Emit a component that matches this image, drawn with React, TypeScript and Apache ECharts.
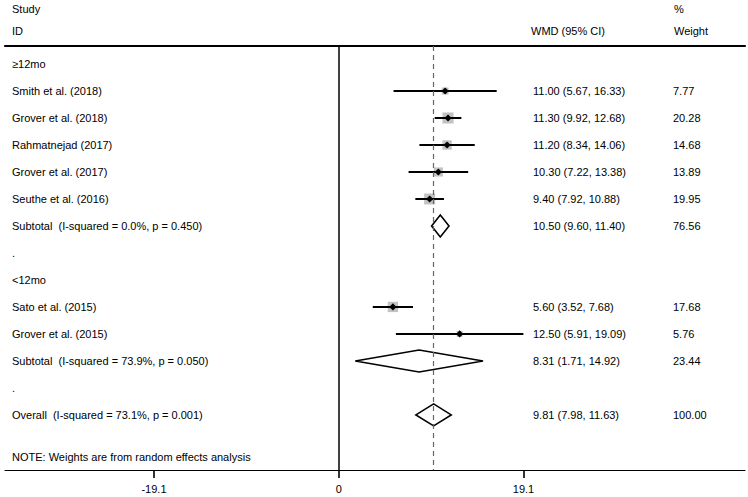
import React, { useEffect, useRef } from "react";
import * as echarts from "echarts";

const rowLabels = [
  "≥12mo",
  "Smith et al. (2018)",
  "Grover et al. (2018)",
  "Rahmatnejad (2017)",
  "Grover et al. (2017)",
  "Seuthe et al. (2016)",
  "Subtotal  (I-squared = 0.0%, p = 0.450)",
  ".",
  "<12mo",
  "Sato et al. (2015)",
  "Grover et al. (2015)",
  "Subtotal  (I-squared = 73.9%, p = 0.050)",
  ".",
  "Overall  (I-squared = 73.1%, p = 0.001)",
];

const studyRows = [1, 2, 3, 4, 5, 9, 10];
const studyEst = [11.0, 11.3, 11.2, 10.3, 9.4, 5.6, 12.5];
const studyLo = [5.67, 9.92, 8.34, 7.22, 7.92, 3.52, 5.91];
const studyHi = [16.33, 12.68, 14.06, 13.38, 10.88, 7.68, 19.09];
const studyWeight = [7.77, 20.28, 14.68, 13.89, 19.95, 17.68, 5.76];

const pooledRows = [6, 11, 13];
const pooledEst = [10.5, 8.31, 9.81];
const pooledLo = [9.6, 1.71, 7.98];
const pooledHi = [11.4, 14.92, 11.63];
const pooledWeight = [76.56, 23.44, 100.0];

const overallEst = 9.81;
const tickValues = [-19.1, 0, 19.1];
const noteText = "NOTE: Weights are from random effects analysis";
const noteRow = 14.55;

const FONT = '"Liberation Sans", Arial, Helvetica, sans-serif';
const FS = 11;
const INK = "#000";
const COL_LABEL = 12;
const COL_CI = 533;
const COL_W = 673;

const fmt = (v: number) => v.toFixed(2);

export default function App() {
  const ref = useRef<HTMLDivElement>(null);
  useEffect(() => {
    if (!ref.current) return;
    const chart = echarts.init(ref.current, null, { renderer: "svg" });

    const ciByRow: Record<number, string> = {};
    const wByRow: Record<number, string> = {};
    studyRows.forEach((r, i) => {
      ciByRow[r] = `${fmt(studyEst[i])} (${fmt(studyLo[i])}, ${fmt(studyHi[i])})`;
      wByRow[r] = fmt(studyWeight[i]);
    });
    pooledRows.forEach((r, i) => {
      ciByRow[r] = `${fmt(pooledEst[i])} (${fmt(pooledLo[i])}, ${fmt(pooledHi[i])})`;
      wByRow[r] = fmt(pooledWeight[i]);
    });

    const textEl = (text: string, x: number, y: number) => ({
      type: "text",
      x,
      y,
      style: {
        text,
        fill: INK,
        fontSize: FS,
        fontFamily: FONT,
        align: "left",
        verticalAlign: "middle",
      },
    });

    const textData = rowLabels.map((_, i) => [0, i]);
    textData.push([0, noteRow]);

    chart.setOption({
      animation: false,
      backgroundColor: "#fff",
      grid: { left: 5, right: 3, top: 46, bottom: 27, containLabel: false },
      xAxis: [
        {
          type: "value",
          min: -34.5,
          max: 42,
          position: "bottom",
          splitLine: { show: false },
          axisLine: { show: true, onZero: false, lineStyle: { color: INK, width: 1.2 } },
          axisTick: { show: true, customValues: tickValues, length: 8, lineStyle: { color: INK, width: 1.6 } },
          axisLabel: {
            show: true,
            customValues: tickValues,
            margin: 13,
            color: INK,
            fontSize: FS,
            fontFamily: FONT,
            formatter: (v: number) => String(v),
          },
        },
        {
          type: "value",
          min: -34.5,
          max: 42,
          position: "top",
          splitLine: { show: false },
          axisLine: { show: true, onZero: false, lineStyle: { color: INK, width: 2.2 } },
          axisTick: { show: false },
          axisLabel: { show: false },
        },
      ],
      yAxis: {
        type: "value",
        min: -0.667,
        max: 15.04,
        inverse: true,
        show: false,
      },
      series: [
        {
          type: "custom",
          name: "text",
          xAxisIndex: 0,
          data: textData,
          encode: { x: 0, y: 1 },
          silent: true,
          renderItem: (params: any, api: any) => {
            const idx = params.dataIndex;
            const row = api.value(1);
            const y = api.coord([0, row])[1];
            if (idx >= rowLabels.length) {
              return { type: "group", children: [textEl(noteText, COL_LABEL, y)] };
            }
            const children: any[] = [textEl(rowLabels[idx], COL_LABEL, y)];
            if (ciByRow[idx]) children.push(textEl(ciByRow[idx], COL_CI, y));
            if (wByRow[idx]) children.push(textEl(wByRow[idx], COL_W, y));
            return { type: "group", children };
          },
          markLine: {
            silent: true,
            symbol: "none",
            label: { show: false },
            data: [
              { xAxis: 0, lineStyle: { color: INK, width: 1.5, type: "solid" } },
              { xAxis: overallEst, lineStyle: { color: "#666", width: 1.2, type: [5, 4] } },
            ],
          },
        },
        {
          type: "custom",
          name: "studies",
          data: studyRows.map((r, i) => [studyEst[i], r, studyLo[i], studyHi[i], studyWeight[i]]),
          encode: { x: [0, 2, 3], y: 1 },
          renderItem: (params: any, api: any) => {
            const est = api.value(0);
            const row = api.value(1);
            const lo = api.value(2);
            const hi = api.value(3);
            const w = api.value(4);
            const c = api.coord([est, row]);
            const pl = api.coord([lo, row]);
            const ph = api.coord([hi, row]);
            const side = 2.45 * Math.sqrt(w);
            const d = 3.6;
            return {
              type: "group",
              children: [
                {
                  type: "rect",
                  shape: { x: c[0] - side / 2, y: c[1] - side / 2, width: side, height: side },
                  style: { fill: "#c2c2c2" },
                },
                {
                  type: "line",
                  shape: { x1: pl[0], y1: c[1], x2: ph[0], y2: c[1] },
                  style: { stroke: INK, lineWidth: 2 },
                },
                {
                  type: "polygon",
                  shape: {
                    points: [
                      [c[0] - d, c[1]],
                      [c[0], c[1] - d],
                      [c[0] + d, c[1]],
                      [c[0], c[1] + d],
                    ],
                  },
                  style: { fill: INK },
                },
              ],
            };
          },
        },
        {
          type: "custom",
          name: "pooled",
          data: pooledRows.map((r, i) => [pooledEst[i], r, pooledLo[i], pooledHi[i]]),
          encode: { x: [0, 2, 3], y: 1 },
          renderItem: (params: any, api: any) => {
            const est = api.value(0);
            const row = api.value(1);
            const lo = api.value(2);
            const hi = api.value(3);
            const c = api.coord([est, row]);
            const pl = api.coord([lo, row]);
            const ph = api.coord([hi, row]);
            const h = 11;
            return {
              type: "polygon",
              shape: {
                points: [
                  [pl[0], c[1]],
                  [c[0], c[1] - h],
                  [ph[0], c[1]],
                  [c[0], c[1] + h],
                ],
              },
              style: { fill: "none", stroke: INK, lineWidth: 1.6 },
            };
          },
        },
      ],
      graphic: [
        { type: "text", left: COL_LABEL, top: 3, style: { text: "Study", fill: INK, fontSize: FS, fontFamily: FONT } },
        { type: "text", left: COL_LABEL, top: 25, style: { text: "ID", fill: INK, fontSize: FS, fontFamily: FONT } },
        { type: "text", left: 531, top: 25, style: { text: "WMD (95% CI)", fill: INK, fontSize: FS, fontFamily: FONT } },
        { type: "text", left: 674, top: 3, style: { text: "%", fill: INK, fontSize: FS, fontFamily: FONT } },
        { type: "text", left: 674, top: 25, style: { text: "Weight", fill: INK, fontSize: FS, fontFamily: FONT } },
      ],
    });

    return () => chart.dispose();
  }, []);

  return (
    <div
      ref={ref}
      style={{ position: "absolute", left: 0, top: 0, width: 748, height: 497 }}
    />
  );
}
